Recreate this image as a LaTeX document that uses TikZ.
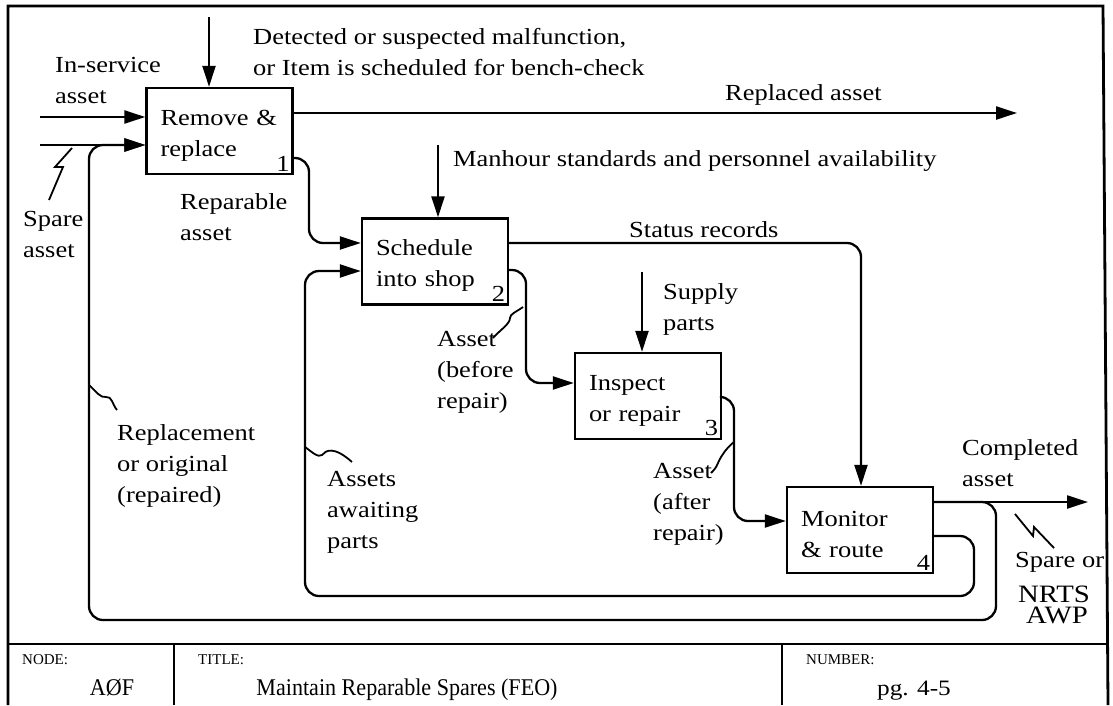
\documentclass[tikz,border=0pt]{standalone}
\usepackage{fontspec}
\setmainfont{Liberation Serif}[FakeStretch=1.15]
\newfontfamily\plainserif{Liberation Serif}
\newfontfamily\titleserif{Liberation Serif}[FakeStretch=0.92]
\usetikzlibrary{arrows.meta}

\begin{document}
\begin{tikzpicture}[x=1pt,y=-1pt,
    font=\fontsize{23}{31}\selectfont,
    actbox/.style={draw,line width=2.4pt,minimum width=146pt,minimum height=86pt,
      text width=118pt,inner xsep=14pt,align=left,
      execute at begin node={\rule{0pt}{24pt}}},
    flow/.style={line width=2.3pt,rounded corners=14pt,-{Triangle[length=21pt,width=13pt]}},
    squig/.style={line width=1.8pt},
    lbl/.style={align=left,inner sep=0pt,anchor=base west},
    boxnum/.style={anchor=south east,inner sep=4pt},
    tb/.style={font=\titleserif\fontsize{24}{28}\selectfont,inner sep=0pt,anchor=base},
    small/.style={font=\plainserif\fontsize{15}{18}\selectfont,inner sep=0pt,anchor=base west}]

      \useasboundingbox (0,0) rectangle (1113,705);

      % frame and title block
      \draw[line width=2.8pt] (8,705) -- (8,6) -- (1103,6) -- (1108,705);
      \draw[line width=2.8pt] (8,644) -- (1107,644);
      \draw[line width=2.8pt] (174,644) -- (174,705);
      \draw[line width=2.8pt] (782,644) -- (782,705);

      \node[small] (nodel) at (22,664) {NODE:};
      \node[tb] (nodeid) at (112,695) {AØF};
      \node[small] (titlel) at (198,664) {TITLE:};
      \node[tb] (title) at (407,695) {Maintain Reparable Spares (FEO)};
      \node[small] (numl) at (806,664) {NUMBER:};
      \node[tb,font=\fontsize{22}{26}\selectfont] (num) at (914,695) {pg. 4-5};

      % activity boxes
      \node[actbox] (rr) at (219.5,131) {Remove \&\\replace};
      \node[actbox] (sched) at (435,261.5) {Schedule\\into shop};
      \node[actbox] (insp) at (648,396) {Inspect\\or repair};
      \node[actbox] (mon) at (860,530) {Monitor\\\& route};

      \node[boxnum] at (rr.south east) {1};
      \node[boxnum] at (sched.south east) {2};
      \node[boxnum] at (insp.south east) {3};
      \node[boxnum] at (mon.south east) {4};

      % inputs and controls
      \coordinate (insvc) at (40,117);
      \coordinate (spare) at (40,145);
      \coordinate (det) at (209,17);
      \coordinate (manh) at (438,145);
      \coordinate (supp) at (642,272);
      \draw[flow] (insvc) -- (insvc -| rr.west);
      \draw[flow] (spare) -- (spare -| rr.west);
      \draw[flow] (det) -- (det |- rr.north);
      \draw[flow] (manh) -- (manh |- sched.north);
      \draw[flow] (supp) -- (supp |- insp.north);

      % outputs
      \coordinate (repl) at (1017,113);
      \coordinate (compl) at (1088,502);
      \draw[flow] (rr.east |- repl) -- (repl);
      \draw[flow] (mon.east |- compl) -- (compl);

      % box to box
      \coordinate (ra1) at (309,158);
      \coordinate (ra2) at (309,243);
      \draw[flow] (rr.east |- ra1) -- (ra1) -- (ra2) -- (ra2 -| sched.west);

      \coordinate (st1) at (861,243);
      \draw[flow] (sched.east |- st1) -- (st1) -- (st1 |- mon.north);

      \coordinate (ab1) at (526,270);
      \coordinate (ab2) at (526,383);
      \draw[flow] (sched.east |- ab1) -- (ab1) -- (ab2) -- (ab2 -| insp.west);

      \coordinate (aa1) at (734,397);
      \coordinate (aa2) at (734,521);
      \draw[flow] (insp.east |- aa1) -- (aa1) -- (aa2) -- (aa2 -| mon.west);

      % loops back
      \coordinate (il1) at (974,536);
      \coordinate (il2) at (974,596);
      \coordinate (il3) at (305,596);
      \coordinate (il4) at (305,271);
      \draw[flow] (mon.east |- il1) -- (il1) -- (il2) -- (il3) -- (il4) -- (il4 -| sched.west);

      \coordinate (ol1) at (996,502);
      \coordinate (ol2) at (996,620);
      \coordinate (ol3) at (89,620);
      \coordinate (ol4) at (89,145);
      \draw[flow] (mon.east |- ol1) -- (ol1) -- (ol2) -- (ol3) -- (ol4) -- (ol4 -| rr.west);

      % labels (placed at the baseline of their last line)
      \node[lbl] (insvcl) at (55,103) {In-service\\asset};
      \node[lbl] (sparel) at (23,257) {Spare\\asset};
      \node[lbl] (detl) at (253,75) {Detected or suspected malfunction,\\or Item is scheduled for bench-check};
      \node[lbl] (repll) at (725,100) {Replaced asset};
      \node[lbl] (reparl) at (180,240) {Reparable\\asset};
      \node[lbl] (manl) at (453,166) {Manhour standards and personnel availability};
      \node[lbl] (statl) at (629,237) {Status records};
      \node[lbl] (suppl) at (663,330) {Supply\\parts};
      \node[lbl] (befl) at (437,408) {Asset\\(before\\repair)};
      \node[lbl] (aftl) at (653,540) {Asset\\(after\\repair)};
      \node[lbl] (compll) at (962,486) {Completed\\asset};
      \node[lbl] (origl) at (117,502) {Replacement\\or original\\(repaired)};
      \node[lbl] (awpl) at (327,548) {Assets\\awaiting\\parts};
      \node[lbl] (sparorl) at (1015,567) {Spare or};
      \node[anchor=base,inner sep=0pt,font=\fontsize{25}{28}\selectfont] (nrtsl) at (1054,602) {NRTS};
      \node[anchor=base,inner sep=0pt,font=\fontsize{25}{28}\selectfont] (awpsl) at (1057,623) {AWP};

      % squiggles
      \draw[squig] (72,148) -- (55,167) -- (63,167) -- (49,200);
      \draw[squig] (1015,514) -- (1033,536) -- (1034,527) -- (1054,548);
      \draw[squig] (89,385) .. controls (97,392) and (100,398) .. (106,397)
                   .. controls (112,396) and (112,404) .. (117,410);
      \draw[squig] (305,447) .. controls (312,452) and (318,458) .. (322,455)
                   .. controls (326,450) and (334,446) .. (352,462);
      \draw[squig] (523,307) .. controls (516,312) and (510,314) .. (510,318)
                   .. controls (510,324) and (500,330) .. (493,338);
      \draw[squig] (734,442) .. controls (726,448) and (720,458) .. (718,463)
                   .. controls (716,468) and (714,470) .. (711,473);

\end{tikzpicture}
\end{document}
